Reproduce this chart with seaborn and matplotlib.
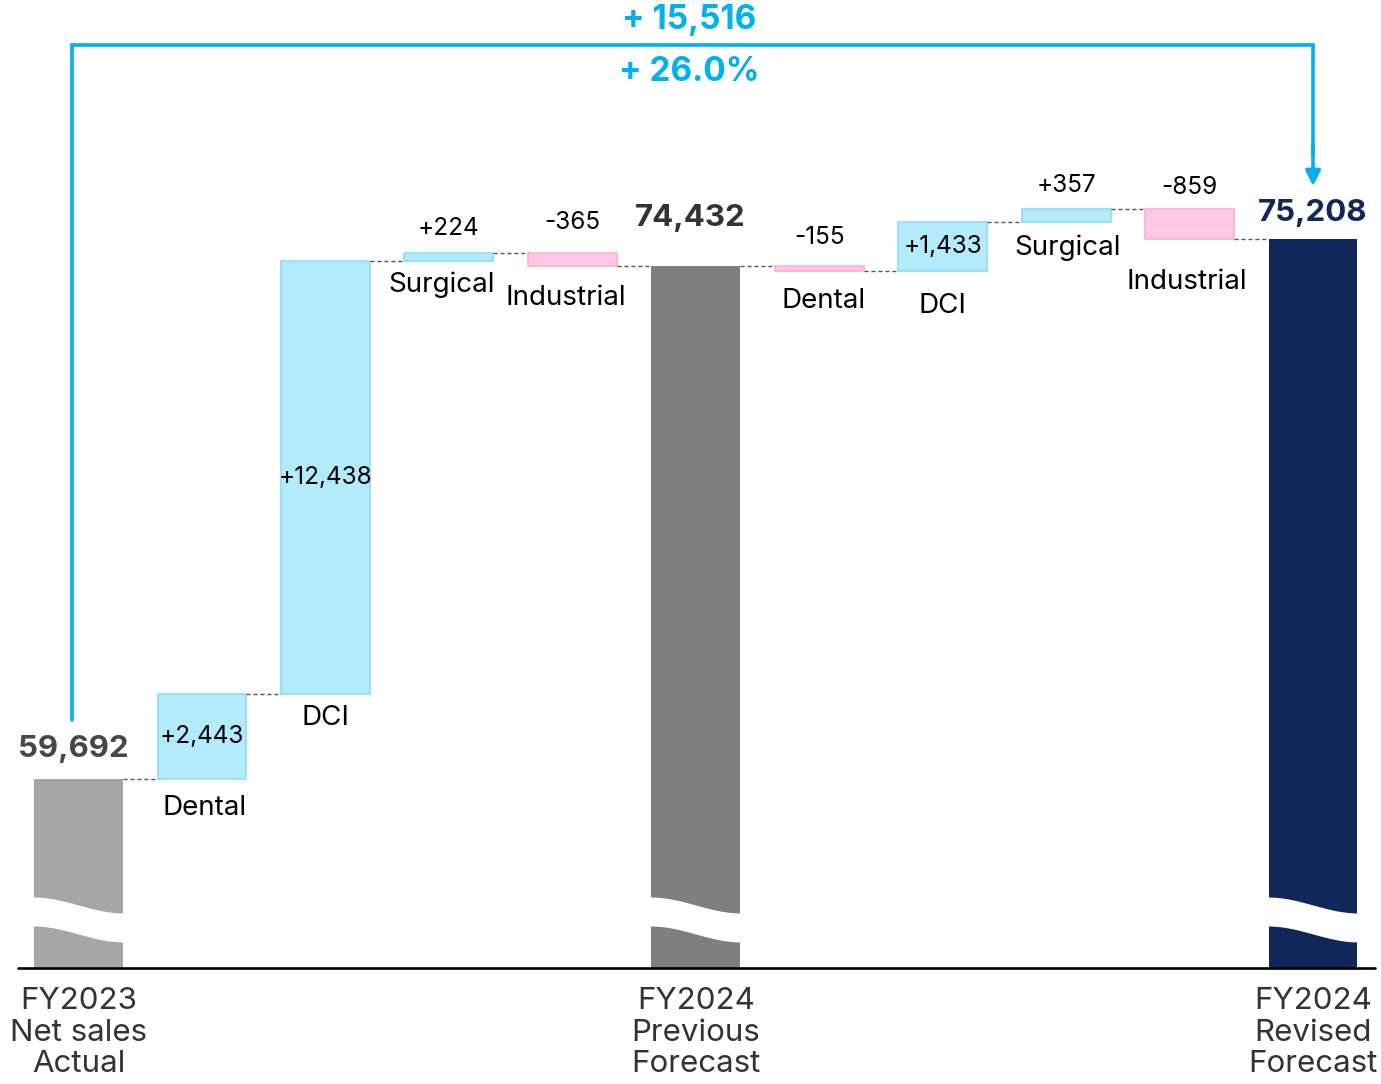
import matplotlib
matplotlib.use("Agg")
import matplotlib.pyplot as plt
import numpy as np
import pandas as pd
import seaborn as sns

# waterfall data (JPY million)
steps = ["FY2023\nNet sales\nActual", "Dental", "DCI", "Surgical", "Industrial",
         "FY2024\nPrevious\nForecast", "Dental", "DCI", "Surgical", "Industrial",
         "FY2024\nRevised\nForecast"]
values = [59692, 2443, 12438, 224, -365, 74432, -155, 1433, 357, -859, 75208]
is_total = [True, False, False, False, False, True, False, False, False, False, True]
total_change = "+ 15,516"
total_change_pct = "+ 26.0%"

# layout helpers (pixel offsets, not data)
label_above_px = {3: 25, 4: 31, 6: 29, 8: 24, 9: 22}
cat_below_px = {1: (3, 29), 2: (0, 24), 3: (-7, 24), 4: (-6, 32), 6: (4, 30),
                7: (0, 35), 8: (1, 26), 9: (-3, 43)}
total_label_px = {0: (-5, 30), 5: (-5, 48), 10: (0, 26)}

BLUE, BLUE_EDGE = "#b3ebfc", "#8fdcf7"
PINK, PINK_EDGE = "#ffc9e5", "#ffadd6"
TOTAL_COLORS = {0: "#a6a6a6", 5: "#7f7f7f", 10: "#0f2859"}
TOTAL_TEXT = {0: "#474747", 5: "#333333", 10: "#0f2859"}
CYAN = "#00b0f0"

YMIN, YMAX = 54262, 82075
W = 0.72
PT = 0.72  # points per pixel at dpi 100

# running levels
lows, highs, levels = [], [], []
level = 0
for v, t in zip(values, is_total):
    if t:
        lows.append(0)
        highs.append(v)
        level = v
    else:
        lows.append(min(level, level + v))
        highs.append(max(level, level + v))
        level += v
    levels.append(level)

colors = []
for i, (v, t) in enumerate(zip(values, is_total)):
    colors.append(TOTAL_COLORS[i] if t else (BLUE if v > 0 else PINK))

df = pd.DataFrame({"step": [str(i) for i in range(len(steps))], "high": highs})

sns.set_style("white")
plt.rcParams["font.family"] = ["Inter", "DejaVu Sans"]

fig = plt.figure(figsize=(13.81, 10.84), dpi=100)
ax = fig.add_axes([0, 116 / 1084, 1, 968 / 1084])

sns.barplot(data=df, x="step", y="high", hue="step", palette=colors,
            width=W, legend=False, ax=ax, saturation=1)

for i, p in enumerate(ax.patches):
    if is_total[i]:
        p.set_edgecolor("none")
    else:
        p.set_y(lows[i])
        p.set_height(highs[i] - lows[i])
        p.set_edgecolor(BLUE_EDGE if values[i] > 0 else PINK_EDGE)
        p.set_linewidth(1.2)

ax.set_xlim(-78.5 / 123.45, 10 + (1381 - 1313) / 123.45)
ax.set_ylim(YMIN, YMAX)
ax.set_xlabel("")
ax.set_ylabel("")
ax.set_xticks([])
ax.set_yticks([])
for s in ax.spines.values():
    s.set_visible(False)

# connectors
for i in range(len(values) - 1):
    ax.plot([i + W / 2, i + 1 - W / 2], [levels[i], levels[i]], color="#595959",
            lw=1, ls=(0, (3, 2)), zorder=1)

# axis-break waves on total bars
upp = (YMAX - YMIN) / 968
t = np.linspace(0, 1, 60)
for i, tt in enumerate(is_total):
    if not tt:
        continue
    top_px = 905 - 8 * np.cos(np.pi * t)
    bot_px = top_px + 29
    xs = i - W / 2 - 0.01 + t * (W + 0.02)
    ax.fill_between(xs, YMIN + (968 - bot_px) * upp, YMIN + (968 - top_px) * upp,
                    color="white", lw=0, zorder=3)

# baseline
ax.axhline(YMIN, xmin=18 / 1381, xmax=1375 / 1381, color="black", lw=1.9,
           clip_on=False, zorder=4)

# labels
for i, v in enumerate(values):
    if is_total[i]:
        dx, dy = total_label_px[i]
        ax.annotate(f"{v:,}", (i, highs[i]), xytext=(dx * PT, dy * PT),
                    textcoords="offset points", ha="center", va="center",
                    fontsize=22.5, fontweight="bold", color=TOTAL_TEXT[i])
        ax.text(i, -19 / 968, steps[i], transform=ax.get_xaxis_transform(),
                ha="center", va="top", fontsize=22.5, color="#333333",
                linespacing=1.17)
        continue
    txt = f"{v:+,}"
    if i in label_above_px:
        ax.annotate(txt, (i, highs[i]), xytext=(0, label_above_px[i] * PT),
                    textcoords="offset points", ha="center", va="center",
                    fontsize=17.5, color="black")
    else:
        ax.text(i, (lows[i] + highs[i]) / 2, txt, ha="center", va="center",
                fontsize=17.5, color="black", zorder=5)
    dx, dy = cat_below_px[i]
    ax.annotate(steps[i], (i, lows[i]), xytext=(dx * PT, -dy * PT),
                textcoords="offset points", ha="center", va="center",
                fontsize=20, color="black")

# total change bracket
tr = ax.get_xaxis_transform()
x0 = -6.5 / 123.45
ax.plot([x0, x0, 10, 10], [(968 - 720) / 968, (968 - 45) / 968, (968 - 45) / 968, 0.84],
        color=CYAN, lw=2.6, transform=tr, clip_on=False, solid_joinstyle="miter")
ax.annotate("", xy=(10, (968 - 186) / 968), xytext=(10, 0.85), xycoords=tr, textcoords=tr,
            arrowprops=dict(arrowstyle="-|>,head_width=0.45,head_length=0.9",
                            color=CYAN, lw=2.6, shrinkA=0, shrinkB=0))
ax.text(4.95, (968 - 20) / 968, total_change, transform=tr, ha="center", va="center",
        fontsize=24, fontweight="bold", color=CYAN)
ax.text(4.95, (968 - 72) / 968, total_change_pct, transform=tr, ha="center", va="center",
        fontsize=24, fontweight="bold", color=CYAN)

fig.savefig("out.png", dpi=100)
